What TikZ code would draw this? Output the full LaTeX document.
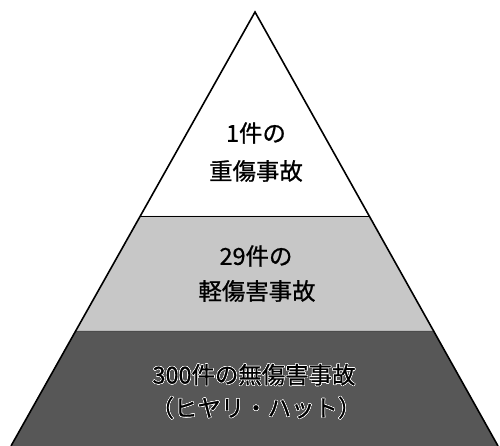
\documentclass[tikz,border=0pt]{standalone}
\usepackage{fontspec}
\setmainfont{Noto Sans CJK JP}
\newfontfamily\jpheavy[FakeBold=0.8]{Noto Sans CJK JP}
\usepackage[copies]{contour}
\contourlength{0.55pt}
\usetikzlibrary{calc}
\definecolor{lightband}{gray}{0.78}
\definecolor{darkband}{gray}{0.34}
\tikzset{
  label/.style={font=\jpheavy\fontsize{23.5}{27}\selectfont, inner sep=0pt, align=center, text=black},
  edge/.style={line width=1.6pt, black, line join=miter},
}
\begin{document}
\begin{tikzpicture}[x=1bp,y=-1bp]
\useasboundingbox (0,0) rectangle (500,446);
\fill[white] (0,0) rectangle (500,446);
\coordinate (apex) at (255,12);
\coordinate (bl) at (11,446);
\coordinate (br) at (498,446);
\coordinate (l1) at ($(apex)!204/434!(bl)$);
\coordinate (r1) at ($(apex)!204/434!(br)$);
\coordinate (l2) at ($(apex)!319/434!(bl)$);
\coordinate (r2) at ($(apex)!319/434!(br)$);
\fill[lightband] (l1) -- (r1) -- (r2) -- (l2) -- cycle;
\fill[darkband] (l2) -- (r2) -- (br) -- (bl) -- cycle;
\draw[line width=0.6pt] (l1) -- (r1);
\draw[line width=0.4pt, gray!60!black] (l2) -- (r2);
\draw[edge] (bl) -- (apex) -- (br);
\node[label] (t1a) at (256,133) {1件の};
\node[label] (t1b) at (256,171) {重傷事故};
\node[label] (t2a) at (256,256) {29件の};
\node[label] (t2b) at (257,291) {軽傷害事故};
\node[label] (t3a) at (254,375) {\contour{white}{300件の無傷害事故}};
\node[label] (t3b) at (256,408) {\contour{white}{（ヒヤリ・ハット）}};
\end{tikzpicture}
\end{document}
